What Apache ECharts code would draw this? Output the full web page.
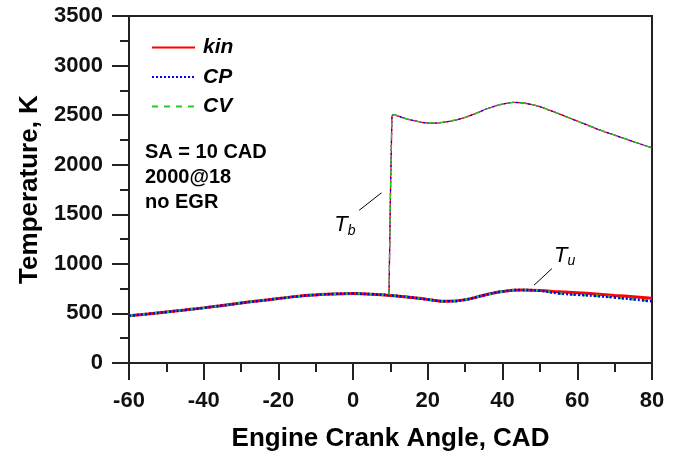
<!DOCTYPE html>
<html>
<head>
<meta charset="utf-8">
<script src="https://cdn.jsdelivr.net/npm/echarts@6/dist/echarts.min.js"></script>
<style>
  html, body { margin: 0; padding: 0; background: #fff; }
  #chart { width: 681px; height: 457px; }
</style>
</head>
<body>
<div id="chart"></div>
<script>
// Crank angle grid (CAD) for the unburned-zone temperature
const cadU = [-60, -55, -50, -45, -40, -35, -30, -25, -20, -15, -10, -5, 0, 5, 10, 15, 20, 25, 30, 35, 40, 45, 50, 55, 60, 65, 70, 75, 80];
// Unburned-zone temperature Tu, K
const tuKin = [476, 495, 515, 535, 556, 580, 605, 628, 650, 672, 687, 697, 700, 694, 682, 664, 641, 622, 638, 684, 722, 736, 732, 718, 708, 696, 682, 668, 652];
const tuCP  = [476, 495, 515, 535, 556, 580, 605, 628, 650, 672, 687, 697, 700, 694, 682, 664, 641, 622, 638, 684, 722, 736, 728, 702, 688, 676, 660, 642, 622];
const tuCV  = [476, 495, 515, 535, 556, 580, 605, 628, 650, 672, 687, 697, 700, 694, 682, 664, 641, 622, 638, 684, 722, 736, 729, 704, 690, 678, 662, 644, 625];

// Burned-zone temperature Tb, from spark (SA = 10 CAD) onwards
const cadB = [9.6, 10.4, 11, 12, 13, 15, 18, 20, 22, 25, 28, 30, 33, 36, 40, 43, 45, 48, 50, 55, 60, 65, 70, 75, 80];
const tbKin = [684, 2494, 2505, 2492, 2478, 2455, 2430, 2420, 2419, 2432, 2455, 2478, 2520, 2567, 2612, 2628, 2625, 2605, 2585, 2515, 2440, 2365, 2298, 2233, 2170];
const tbCP  = [684, 2494, 2505, 2492, 2478, 2455, 2432, 2423, 2422, 2434, 2456, 2478, 2520, 2567, 2612, 2628, 2625, 2605, 2585, 2515, 2440, 2365, 2298, 2233, 2170];
const tbCV  = [684, 2494, 2505, 2492, 2478, 2455, 2432, 2423, 2422, 2434, 2456, 2478, 2520, 2567, 2612, 2628, 2625, 2605, 2585, 2515, 2440, 2365, 2298, 2233, 2170];

const pairs = (xs, ys) => xs.map((x, i) => [x, ys[i]]);

const FONT = '"Liberation Sans", Arial, sans-serif';
const RED = '#ff0000', BLUE = '#0000ff', GREEN = '#22cc22';

const chart = echarts.init(document.getElementById('chart'), null, { renderer: 'canvas' });

function lineSeries(name, data, color, type, width, z, smooth) {
  return {
    name, type: 'line', data, z,
    symbol: 'none', smooth: smooth, animation: false,
    lineStyle: { color, width, type },
    itemStyle: { color }
  };
}

const series = [
  lineSeries('kin', pairs(cadU, tuKin), RED, 'solid', 3, 2, 0.5),
  lineSeries('CV', pairs(cadU, tuCV), GREEN, [6, 6], 2.5, 3, 0.5),
  lineSeries('CP', pairs(cadU, tuCP), BLUE, [2, 2], 2.5, 4, 0.5),
  lineSeries('kin', pairs(cadB, tbKin), RED, 'solid', 1.3, 2, 0.25),
  lineSeries('CP', pairs(cadB, tbCP), BLUE, [2, 2], 1.3, 3, 0.25),
  lineSeries('CV', pairs(cadB, tbCV), GREEN, [6, 6], 1.3, 4, 0.25)
];

// Leader lines and zone labels, placed in data coordinates
series.push({
  type: 'line', data: [], silent: true, z: 6,
  markLine: {
    symbol: 'none', silent: true, animation: false,
    lineStyle: { color: '#000', width: 1, type: 'solid' },
    label: { show: false },
    data: [
      [{ coord: [1.6, 1540] }, { coord: [7.6, 1717] }],
      [{ coord: [48.4, 784] }, { coord: [53.2, 952] }]
    ]
  },
  markPoint: {
    symbol: 'circle', symbolSize: 0, silent: true, animation: false,
    label: {
      show: true, position: 'inside',
      formatter: p => '{t|T}{s|' + p.name + '}',
      rich: {
        t: { fontFamily: FONT, fontStyle: 'italic', fontSize: 22, color: '#000' },
        s: { fontFamily: FONT, fontStyle: 'italic', fontSize: 14, color: '#000', padding: [11, 0, 0, 0] }
      }
    },
    data: [
      { name: 'b', coord: [-2.2, 1390] },
      { name: 'u', coord: [56.6, 1080] }
    ]
  }
});

chart.setOption({
  animation: false,
  grid: {
    left: 129, right: 29, top: 16, bottom: 93,
    show: true, borderColor: '#222', borderWidth: 2, backgroundColor: 'transparent'
  },
  legend: {
    data: ['kin', 'CP', 'CV'],
    orient: 'vertical', left: 146, top: 32,
    itemWidth: 43, itemHeight: 14, itemGap: 8.5,
    itemStyle: { opacity: 0 },
    textStyle: { fontFamily: FONT, fontSize: 21, fontWeight: 'bold', fontStyle: 'italic', color: '#000', lineHeight: 20, padding: [0, 0, 0, 3] },
    selectedMode: false
  },
  xAxis: {
    type: 'value', min: -60, max: 80, interval: 20,
    name: 'Engine Crank Angle, CAD', nameLocation: 'middle', nameGap: 63,
    nameTextStyle: { fontFamily: FONT, fontSize: 26, fontWeight: 'bold', color: '#000' },
    axisLine: { show: true, onZero: false, lineStyle: { color: '#222', width: 2 } },
    axisTick: { show: true, inside: false, length: 17, lineStyle: { color: '#222', width: 2 } },
    minorTick: { show: true, splitNumber: 2, length: 9, lineStyle: { color: '#222', width: 2 } },
    axisLabel: { fontFamily: FONT, fontSize: 22, fontWeight: 'bold', color: '#111', margin: 27, formatter: v => String(v) },
    splitLine: { show: false }
  },
  yAxis: {
    type: 'value', min: 0, max: 3500, interval: 500,
    name: 'Temperature, K', nameLocation: 'middle', nameGap: 79,
    nameTextStyle: { fontFamily: FONT, fontSize: 26, fontWeight: 'bold', color: '#000' },
    axisLine: { show: true, onZero: false, lineStyle: { color: '#222', width: 2 } },
    axisTick: { show: true, inside: false, length: 17, lineStyle: { color: '#222', width: 2 } },
    minorTick: { show: true, splitNumber: 2, length: 9, lineStyle: { color: '#222', width: 2 } },
    axisLabel: { fontFamily: FONT, fontSize: 22, fontWeight: 'bold', color: '#111', margin: 26, formatter: v => String(v) },
    splitLine: { show: false }
  },
  graphic: [{
    type: 'text', left: 145, top: 140, silent: true,
    style: {
      text: 'SA = 10 CAD\n2000@18\nno EGR',
      font: 'bold 20px ' + FONT, lineHeight: 25, fill: '#000'
    }
  }],
  series
});
</script>
</body>
</html>
